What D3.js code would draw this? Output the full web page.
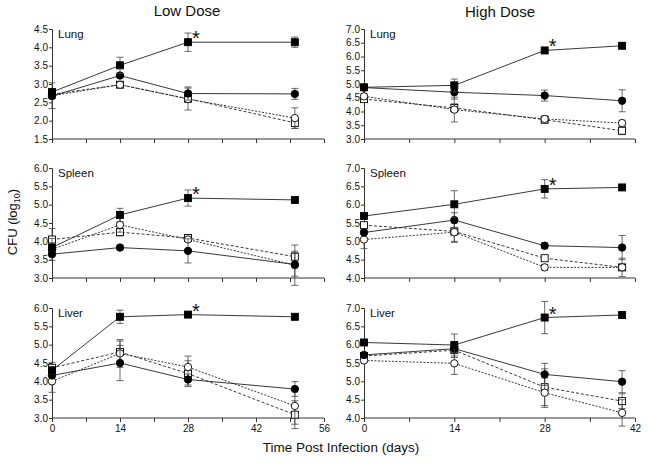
<!DOCTYPE html>
<html>
<head>
<meta charset="utf-8">
<script src="https://cdn.jsdelivr.net/npm/d3@7"></script>
<style>
  body { margin: 0; background: #fff; }
  svg text { font-family: "Liberation Sans", Arial, sans-serif; fill: #111; }
</style>
</head>
<body>
<div id="chart"></div>
<script>
// Days sampled for each dose
const daysLow = [0, 14, 28, 50];
const daysHigh = [0, 14, 28, 40];

// Series order: filled square, filled circle, open circle, open square
const seriesKinds = ["filledSquare", "filledCircle", "openCircle", "openSquare"];

// Mean CFU (log10) per series, and error bar half-widths
const lungLowMeans = [[2.78, 3.51, 4.14, 4.14], [2.67, 3.23, 2.74, 2.73], [2.68, 2.98, 2.59, 2.07], [2.72, 2.98, 2.60, 1.94]];
const lungLowErrs = [[0.05, 0.22, 0.25, 0.14], [0.05, 0.05, 0.18, 0.15], [0.35, 0.05, 0.30, 0.28], [0.05, 0.05, 0.10, 0.15]];
const lungHighMeans = [[4.88, 4.95, 6.22, 6.39], [4.87, 4.70, 4.58, 4.39], [4.55, 4.07, 3.73, 3.58], [4.45, 4.13, 3.70, 3.30]];
const lungHighErrs = [[0.10, 0.23, 0.05, 0.05], [0.05, 0.25, 0.20, 0.40], [0.10, 0.45, 0.10, 0.10], [0.05, 0.15, 0.10, 0.14]];
const spleenLowMeans = [[3.83, 4.72, 5.18, 5.13], [3.65, 3.83, 3.74, 3.37], [3.78, 4.45, 4.05, 3.35], [4.05, 4.25, 4.09, 3.58]];
const spleenLowErrs = [[0.10, 0.18, 0.22, 0.04], [0.05, 0.05, 0.33, 0.32], [0.30, 0.20, 0.05, 0.55], [0.30, 0.10, 0.05, 0.15]];
const spleenHighMeans = [[5.69, 6.01, 6.43, 6.47], [5.24, 5.58, 4.88, 4.83], [5.05, 5.25, 4.29, 4.29], [5.44, 5.27, 4.54, 4.29]];
const spleenHighErrs = [[0.05, 0.37, 0.25, 0.06], [0.05, 0.20, 0.08, 0.33], [0.25, 0.25, 0.08, 0.25], [0.05, 0.30, 0.05, 0.05]];
const liverLowMeans = [[4.30, 5.76, 5.82, 5.76], [4.16, 4.50, 4.05, 3.79], [4.00, 4.76, 4.39, 3.33], [4.37, 4.80, 4.21, 3.09]];
const liverLowErrs = [[0.10, 0.18, 0.04, 0.04], [0.05, 0.48, 0.15, 0.20], [0.30, 0.38, 0.30, 0.50], [0.15, 0.30, 0.35, 0.38]];
const liverHighMeans = [[6.06, 5.99, 6.74, 6.81], [5.72, 5.89, 5.19, 4.99], [5.57, 5.49, 4.69, 4.14], [5.69, 5.85, 4.84, 4.46]];
const liverHighErrs = [[0.05, 0.30, 0.44, 0.04], [0.05, 0.10, 0.30, 0.30], [0.05, 0.30, 0.40, 0.36], [0.05, 0.20, 0.50, 0.20]];

// Axis ranges and ticks
const yDomLungLow = [1.5, 4.5];
const yDomLungHigh = [3.0, 7.0];
const yDomSpleenLow = [3.0, 6.0];
const yDomSpleenHigh = [4.0, 7.0];
const yDomLiverLow = [3.0, 6.0];
const yDomLiverHigh = [4.0, 7.0];
const xTicksLow = [0, 7, 14, 21, 28, 35, 42, 49, 56];
const xTicksHigh = [0, 7, 14, 21, 28, 35, 42];
const xLabelsLow = [0, 14, 28, 42, 56];
const xLabelsHigh = [0, 14, 28, 42];

const organs = ["Lung", "Spleen", "Liver"];
const starDay = 28;

const width = 648, height = 462;
const colX = [[52, 324], [364, 635]];
const rowY = [[29, 139], [168, 278], [308, 418]];

const panels = [
  { row: 0, col: 0, means: lungLowMeans, errs: lungLowErrs, dom: yDomLungLow },
  { row: 0, col: 1, means: lungHighMeans, errs: lungHighErrs, dom: yDomLungHigh },
  { row: 1, col: 0, means: spleenLowMeans, errs: spleenLowErrs, dom: yDomSpleenLow },
  { row: 1, col: 1, means: spleenHighMeans, errs: spleenHighErrs, dom: yDomSpleenHigh },
  { row: 2, col: 0, means: liverLowMeans, errs: liverLowErrs, dom: yDomLiverLow },
  { row: 2, col: 1, means: liverHighMeans, errs: liverHighErrs, dom: yDomLiverHigh }
];

const svg = d3.select("#chart").append("svg")
  .attr("width", width)
  .attr("height", height);

// Column titles
svg.append("text").attr("x", 187).attr("y", 16).attr("text-anchor", "middle")
  .style("font-size", "15px").text("Low Dose");
svg.append("text").attr("x", 500).attr("y", 17).attr("text-anchor", "middle")
  .style("font-size", "15px").text("High Dose");

// Axis titles
const yTitle = svg.append("text")
  .attr("transform", "translate(17,222) rotate(-90)")
  .attr("text-anchor", "middle")
  .style("font-size", "13px");
yTitle.append("tspan").text("CFU (log");
yTitle.append("tspan").attr("dy", 3).style("font-size", "9px").text("10");
yTitle.append("tspan").attr("dy", -3).text(")");

svg.append("text").attr("x", 341).attr("y", 452).attr("text-anchor", "middle")
  .style("font-size", "13.5px").text("Time Post Infection (days)");

panels.forEach(p => {
  const days = p.col === 0 ? daysLow : daysHigh;
  const xScale = d3.scaleLinear()
    .domain(p.col === 0 ? [0, 56] : [0, 42])
    .range(colX[p.col]);
  const yScale = d3.scaleLinear()
    .domain(p.dom)
    .range([rowY[p.row][1], rowY[p.row][0]]);

  const g = svg.append("g");

  // x axis
  const xAxis = d3.axisBottom(xScale)
    .tickValues(p.col === 0 ? xTicksLow : xTicksHigh)
    .tickSize(4)
    .tickFormat(d => {
      const labels = p.col === 0 ? xLabelsLow : xLabelsHigh;
      return p.row === 2 && labels.includes(d) ? d : "";
    });
  const gx = g.append("g")
    .attr("transform", `translate(0,${rowY[p.row][1]})`)
    .call(xAxis);
  gx.select(".domain").attr("d", `M${colX[p.col][0]},0H${colX[p.col][1]}`);

  // y axis
  const yTicks = d3.range(p.dom[0], p.dom[1] + 0.01, 0.5);
  const gy = g.append("g")
    .attr("transform", `translate(${colX[p.col][0]},0)`)
    .call(d3.axisLeft(yScale).tickValues(yTicks).tickSize(3).tickPadding(1).tickFormat(d3.format(".1f")));

  [gx, gy].forEach(ax => {
    ax.selectAll("text").style("font-size", "10px").attr("fill", "#222");
    ax.selectAll("line, path").attr("stroke", "#333");
  });

  // organ label
  g.append("text")
    .attr("x", colX[p.col][0] + 6)
    .attr("y", rowY[p.row][0] + 9)
    .style("font-size", "11.5px")
    .text(organs[p.row]);

  const line = d3.line().x(d => xScale(d.day)).y(d => yScale(d.v));

  // draw in reverse so filled symbols sit on top
  seriesKinds.slice().reverse().forEach(kind => {
    const si = seriesKinds.indexOf(kind);
    const pts = days.map((day, i) => ({ day, v: p.means[si][i], e: p.errs[si][i] }));
    const open = kind.startsWith("open");

    // error bars
    pts.forEach(d => {
      const x = xScale(d.day);
      const y0 = yScale(d.v - d.e), y1 = yScale(d.v + d.e);
      g.append("line").attr("x1", x).attr("x2", x).attr("y1", y0).attr("y2", y1)
        .attr("stroke", "#444").attr("stroke-width", 0.8);
      [y0, y1].forEach(yy => g.append("line")
        .attr("x1", x - 3.5).attr("x2", x + 3.5).attr("y1", yy).attr("y2", yy)
        .attr("stroke", "#444").attr("stroke-width", 0.8));
    });

    g.append("path")
      .datum(pts)
      .attr("d", line)
      .attr("fill", "none")
      .attr("stroke", "#222")
      .attr("stroke-width", 0.9)
      .attr("stroke-dasharray", open ? (kind === "openCircle" ? "2,1.5" : "3,2") : null);

    pts.forEach(d => {
      const x = xScale(d.day), y = yScale(d.v);
      if (kind.endsWith("Square")) {
        g.append("rect")
          .attr("x", x - 3.5).attr("y", y - 3.5).attr("width", 7).attr("height", 7)
          .attr("fill", open ? "#fff" : "#000")
          .attr("stroke", "#000").attr("stroke-width", 0.9);
      } else {
        g.append("circle")
          .attr("cx", x).attr("cy", y).attr("r", 3.7)
          .attr("fill", open ? "#fff" : "#000")
          .attr("stroke", "#000").attr("stroke-width", 0.9);
      }
    });
  });

  // significance asterisk on the filled-square series
  const starIdx = days.indexOf(starDay);
  svg.append("text")
    .attr("x", xScale(starDay) + 8)
    .attr("y", yScale(p.means[0][starIdx]) + 3)
    .attr("text-anchor", "middle")
    .style("font-size", "20px")
    .text("*");
});
</script>
</body>
</html>
